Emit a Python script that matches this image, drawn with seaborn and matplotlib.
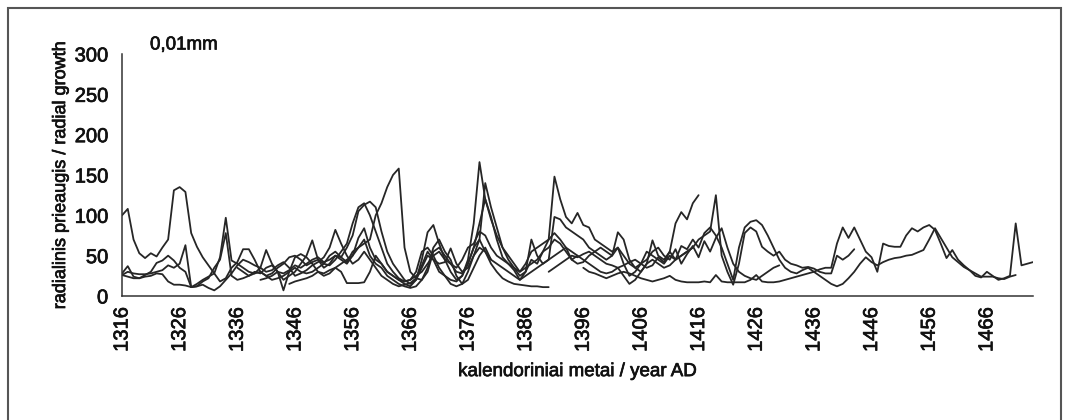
import numpy as np
import pandas as pd
import matplotlib
matplotlib.use("Agg")
import matplotlib.pyplot as plt
import matplotlib.patheffects as pe
import seaborn as sns
from matplotlib.patches import Rectangle

# ---- data (radial growth, 0.01 mm) ----
s1_start = 1316
s1 = [100,108,70,53,47,53,49,60,70,131,135,129,78,61,48,38,28,18,22,35,
      42,58,58,45,30,25,28,35,40,48,50,45,38,42,45,40,50,55,48,60,
      75,105,113,117,110,80,55,40,30,20,15,20,35,50,45,30,25,20,18,25,
      40,60,70,55,45]
s2_start = 1316
s2 = [28,37,24,22,26,30,41,44,50,44,35,30,11,15,20,24,28,48,97,44,
      40,35,30,28,35,57,40,30,20,25,30,40,50,69,45,35,40,50,45,40,
      50,72,84,60,45,40,30,25,20,15,12,20,45,79,88,65,45,30,20,25,
      45,90,166,120,98,70,48,40,32,20,30,45,40,55,60,70,65,55,45,50]
s3_start = 1316
s3 = [26,30,28,27,27,28,30,32,38,35,40,63,11,12,18,22,35,45,78,25,
      20,22,25,30,28,35,38,30,7,30,48,52,48,40,30,25,28,35,30,16,
      16,16,17,30,50,40,30,25,20,18,20,30,55,60,50,35,25,15,12,15,
      30,50,60,55,40,30,22,18,15,14,13,12,12,11,11]
s4_start = 1316
s4 = [26,24,22,22,24,25,28,27,18,14,14,13,11,12,14,10,7,12,20,28,
      38,45,42,38,35,30,32,38,42,35,25,28,32,38,42,48,60,82,65,50,
      40,45,55,45,35,25,20,15,12,14,16,22,38,55,45,40,42,59,40,30,
      35,50,70,140,110,85,60,45,35,25,30,70,50,40,45,98,95,85,80,75,
      70,60,55,50,45,50,60,40,25,30,40,55,50,45,40,50,45,50,55,60]
s5_start = 1336
s5 = [35,30,25,28,30,25,20,22,25,30,35,30,28,30,35,40,38,45,55,65,
      90,110,115,100,80,60,40,30,22,18,20,25,30,40,50,55,45,40,35,45,
      60,65,80,75,60,50,45,40,35,30,40,55,60,65,70,78,70,60,45,40,
      42,50,55,60,55,50,79,70,45,35,30,40,69,50,45,55,90,104,95,115,125]
s6_start = 1340
s6 = [20,22,25,30,28,32,38,35,40,45,48,42,45,50,48,42,55,60,65,70,
      100,115,135,150,158,60,30,22,20,30,55,60,50,40,30,28,40,60,90,120,
      95,75,60,50,40,30,35,40,45,55,70,148,120,98,90,103,88,85,70,65,
      60,55,60,50,40,35,40,45,55,60,50,45,58,40,52,62,48,68,55,72,
      84,60,40,30,25,22,20,25,30,35,38]
s7_start = 1345
s7 = [15,18,20,22,25,30,28,32,35,40,45,50,60,70,50,40,35,25,20,15,
      12,10,12,20,35,60,70,55,45,25,15,20,35,50,60,45,40,35,30,25,
      20,25,30,35,40,45,50,55,60,55,50,45,40,35,30,28,30,35,25,15,
      20,30,40,45,40,35,38,45,50,55,60,70,75,80,125,50,30,14,40,78,
      85,80,61,55,50,55,45,40,38,35,36,34,30,28,28,50,45,50,58]
s8_start = 1390
s8 = [30,35,40,45,50,48,52,55,50,45,40,38,35,38,42,45,40,35,38,48,
      42,55,45,62,58,70,60,78,85,75,60,40,20,60,85,92,94,88,75,60,
      45,35,30,28,32,35,30,25,20,15,12,15,22,30,40,48,42,38,42,45,
      47,48,50,51,54,57,70,84,72,60,48,42,36,32,28,24,24,24,22,21,24,26]
s9_start = 1396
s9 = [35,30,28,25,22,25,28,30,28,25,22,20,18,20,22,25,20,18,17,17,
      17,18,17,26,18,17,17,17,17,20,26,18,17,17,18,20,22,24,26,28,
      30,33,35,35,65,85,72,85,70,55,48,30,65,62,61,61,75,84,80,85,
      88,82,65,47,57,45,38,32,25,23,30,25,20,22,25,90,38,40,42]

all_series = [("s1", s1_start, s1), ("s2", s2_start, s2), ("s3", s3_start, s3),
              ("s4", s4_start, s4), ("s5", s5_start, s5), ("s6", s6_start, s6),
              ("s7", s7_start, s7), ("s8", s8_start, s8), ("s9", s9_start, s9)]

xticks = list(range(1316, 1467, 10))
yticks = [0, 50, 100, 150, 200, 250, 300]

rows = []
for name, start, vals in all_series:
    for i, v in enumerate(vals):
        rows.append({"series": name, "year": start + i, "value": v})
df = pd.DataFrame(rows)

# ---- figure ----
sns.set_style("white")
plt.rcParams["font.family"] = ["Liberation Sans", "DejaVu Sans"]

fig = plt.figure(figsize=(10.65, 4.2), dpi=100)
ax = fig.add_axes([122/1065, 1 - 296/420, (1033 - 122)/1065, (296 - 54)/420])

sns.lineplot(data=df, x="year", y="value", units="series", estimator=None,
             color="#262626", lw=1.3, ax=ax, legend=False)

bold = [pe.withStroke(linewidth=0.5, foreground="#111111")]

ax.set_xlim(1316, 1474)
ax.set_ylim(0, 300)
ax.set_xticks(xticks)
ax.set_xticklabels([str(t) for t in xticks], rotation=90, fontsize=14.5)
ax.set_yticks(yticks)
ax.set_yticklabels([str(t) for t in yticks], fontsize=14.5)
for lab in ax.get_xticklabels() + ax.get_yticklabels():
    lab.set_path_effects(bold)
    lab.set_color("#111111")
ax.tick_params(axis="both", direction="inout", length=10, width=1.1, color="#333333")
ax.tick_params(axis="x", pad=3)
ax.tick_params(axis="y", pad=5)

for side in ["top", "right"]:
    ax.spines[side].set_visible(False)
for side in ["left", "bottom"]:
    ax.spines[side].set_color("#333333")
    ax.spines[side].set_linewidth(1.1)

xl = ax.set_xlabel("kalendoriniai metai / year AD", fontsize=13.5, labelpad=8, color="#111111")
yl = ax.set_ylabel("radialinis prieaugis / radial growth", fontsize=13, labelpad=4, color="#111111")
xl.set_path_effects(bold)
yl.set_path_effects(bold)

t = fig.text(150/1065, 1 - 45/420, "0,01mm", fontsize=13.5, va="center", ha="left", color="#111111")
t.set_path_effects(bold)

fig.patches.append(Rectangle((8/1065, -0.05), (1061 - 8)/1065, 1.05 - 8/420,
                             transform=fig.transFigure, fill=False,
                             edgecolor="#555555", lw=1.5, zorder=0))

fig.savefig("out.png", dpi=100)
